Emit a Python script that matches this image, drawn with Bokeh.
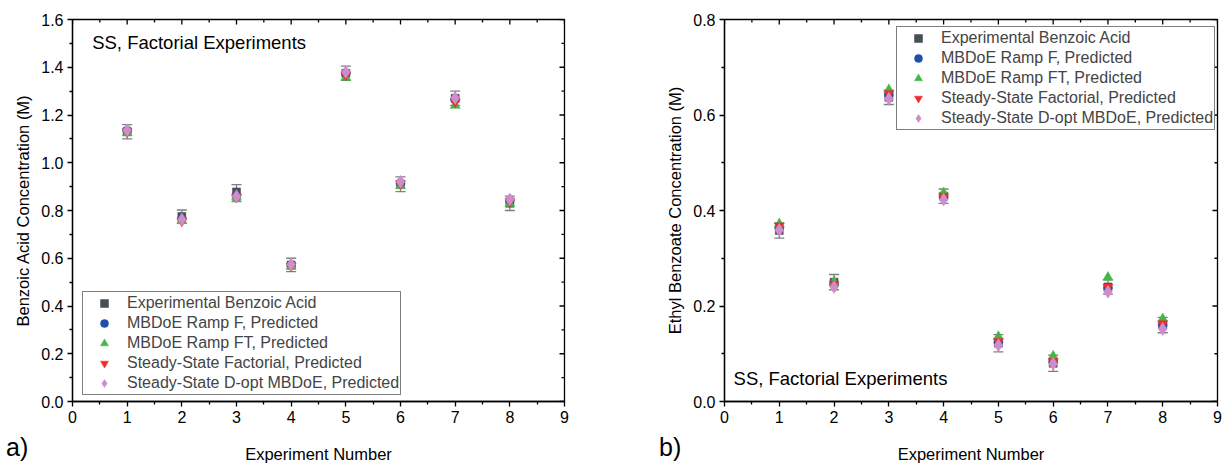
from bokeh.plotting import figure
from bokeh.layouts import row, column
from bokeh.models import (Range1d, FixedTicker, Whisker, TeeHead, Div,
                          ColumnDataSource, Legend, LegendItem, Label, PrintfTickFormatter)
from bokeh.embed import file_html
from bokeh.resources import INLINE
import math

# ---------------- data ----------------
experiments = [1, 2, 3, 4, 5, 6, 7, 8]
x_ticks = [0, 1, 2, 3, 4, 5, 6, 7, 8, 9]
x_minor = [0.5, 1.5, 2.5, 3.5, 4.5, 5.5, 6.5, 7.5, 8.5]

# (a) Benzoic acid concentration (M)
exp_ba = [1.13, 0.775, 0.878, 0.572, 1.375, 0.91, 1.27, 0.83]
err_ba = [0.03, 0.027, 0.03, 0.028, 0.03, 0.031, 0.03, 0.03]
rampF_ba = [1.135, 0.765, 0.862, 0.572, 1.375, 0.915, 1.265, 0.842]
rampFT_ba = [1.125, 0.757, 0.848, 0.565, 1.357, 0.903, 1.24, 0.828]
ssfact_ba = [1.13, 0.755, 0.855, 0.568, 1.368, 0.912, 1.255, 0.838]
ssdopt_ba = [1.136, 0.762, 0.86, 0.574, 1.38, 0.92, 1.271, 0.846]
y_ticks_ba = [0.0, 0.2, 0.4, 0.6, 0.8, 1.0, 1.2, 1.4, 1.6]
y_minor_ba = [0.1, 0.3, 0.5, 0.7, 0.9, 1.1, 1.3, 1.5]

# (b) Ethyl benzoate concentration (M)
exp_eb = [0.358, 0.25, 0.637, 0.43, 0.122, 0.08, 0.24, 0.16]
err_eb = [0.016, 0.016, 0.015, 0.015, 0.018, 0.017, 0.015, 0.016]
rampF_eb = [0.364, 0.245, 0.642, 0.428, 0.124, 0.083, 0.238, 0.16]
rampFT_eb = [0.372, 0.251, 0.653, 0.437, 0.136, 0.095, 0.26, 0.173]
ssfact_eb = [0.368, 0.246, 0.645, 0.43, 0.126, 0.084, 0.24, 0.163]
ssdopt_eb = [0.359, 0.24, 0.634, 0.423, 0.118, 0.079, 0.23, 0.152]
y_ticks_eb = [0.0, 0.2, 0.4, 0.6, 0.8]
y_minor_eb = [0.1, 0.3, 0.5, 0.7]

series_labels = ["Experimental Benzoic Acid", "MBDoE Ramp F, Predicted",
                 "MBDoE Ramp FT, Predicted", "Steady-State Factorial, Predicted",
                 "Steady-State D-opt MBDoE, Predicted"]
panel_tags = ["a)", "b)"]

# ---------------- style ----------------
FONT = "Liberation Sans"
C_EXP = "#454f55"
C_BLUE = "#1f4fa6"
C_GREEN = "#43b649"
C_RED = "#f22a2a"
C_PINK = "#cf8dcb"
C_ERR = "#7f7f7f"
MARKERS = [("square", 8, C_EXP), ("circle", 9, C_BLUE), ("triangle", 10, C_GREEN),
           ("inverted_triangle", 10, C_RED), ("diamond", 13, C_PINK)]


def style_axis(ax, ticks, minor, fmt=None):
    ax.ticker = FixedTicker(ticks=ticks, minor_ticks=minor)
    ax.axis_line_color = "black"
    ax.axis_line_width = 1.3
    ax.major_tick_line_color = "black"
    ax.minor_tick_line_color = "black"
    ax.major_tick_line_width = 1.3
    ax.minor_tick_line_width = 1.3
    ax.major_tick_in, ax.major_tick_out = 0, 5
    ax.minor_tick_in, ax.minor_tick_out = 0, 3
    ax.major_label_text_font = FONT
    ax.major_label_text_font_size = "16px"
    ax.major_label_text_color = "black"
    ax.major_label_standoff = 4
    ax.axis_label_text_font = FONT
    ax.axis_label_text_font_size = "16.5px"
    ax.axis_label_text_font_style = "normal"
    ax.axis_label_text_color = "black"
    if fmt is not None:
        ax.formatter = fmt


def make_panel(width, border_left, border_right, ymax, y_ticks, y_minor, ylabel,
               exp, err, rF, rFT, sF, sD, legend_loc, note_xy):
    p = figure(width=width, height=465, x_range=Range1d(0, 9), y_range=Range1d(0, ymax),
               output_backend="svg", toolbar_location=None,
               min_border_left=border_left, min_border_right=border_right,
               min_border_top=19, min_border_bottom=63)
    p.grid.visible = False
    p.outline_line_color = "black"
    p.outline_line_width = 1.3
    style_axis(p.xaxis[0], x_ticks, x_minor)
    p.xaxis[0].axis_label = "Experiment Number"
    p.xaxis[0].axis_label_standoff = 19
    style_axis(p.yaxis[0], y_ticks, y_minor, fmt=PrintfTickFormatter(format="%.1f"))
    p.yaxis[0].axis_label = ylabel
    p.yaxis[0].axis_label_standoff = 6

    # mirrored inward ticks on the top and right frame edges (outer half is clipped)
    p.scatter(x=x_ticks, y=[ymax] * len(x_ticks), marker="dash", angle=math.pi / 2,
              size=10, line_color="black", line_width=1.3)
    p.scatter(x=x_minor, y=[ymax] * len(x_minor), marker="dash", angle=math.pi / 2,
              size=6, line_color="black", line_width=1.3)
    p.scatter(x=[9] * len(y_ticks), y=y_ticks, marker="dash", size=10,
              line_color="black", line_width=1.3)
    p.scatter(x=[9] * len(y_minor), y=y_minor, marker="dash", size=6,
              line_color="black", line_width=1.3)

    src = ColumnDataSource(dict(x=experiments, upper=[v + e for v, e in zip(exp, err)],
                                lower=[v - e for v, e in zip(exp, err)]))
    wh = Whisker(base="x", upper="upper", lower="lower", source=src,
                 line_color=C_ERR, line_width=1.3,
                 upper_head=TeeHead(size=10, line_color=C_ERR, line_width=1.3),
                 lower_head=TeeHead(size=10, line_color=C_ERR, line_width=1.3))
    p.add_layout(wh)

    items = []
    for (mk, sz, col), vals, lab in zip(MARKERS, [exp, rF, rFT, sF, sD], series_labels):
        r = p.scatter(x=experiments, y=vals, marker=mk, size=sz,
                      fill_color=col, line_color=col, line_width=0.5)
        items.append(LegendItem(label=lab, renderers=[r]))
    leg = Legend(items=items, location=legend_loc, padding=1, spacing=0, margin=0,
                 glyph_width=40, glyph_height=20, label_height=20, label_standoff=3,
                 label_text_font=FONT, label_text_font_size="16px",
                 border_line_color="black", border_line_width=1.3,
                 background_fill_color="white", background_fill_alpha=1.0)
    p.add_layout(leg)

    p.add_layout(Label(x=note_xy[0], y=note_xy[1], text="SS, Factorial Experiments",
                       text_font=FONT, text_font_size="18.5px", text_baseline="middle",
                       text_color="black"))
    return p


def tag_div(text, left, top):
    return Div(text=f'<span style="font-family:\'Liberation Sans\',Arial,sans-serif;'
                    f'font-size:25px;line-height:25px;color:black">{text}</span>',
               width=30, height=26,
               styles={"position": "absolute", "left": f"{left}px", "top": f"{top}px",
                       "z-index": "10"})


p1 = make_panel(612, 72, 48, 1.6, y_ticks_ba, y_minor_ba,
                "Benzoic Acid Concentration (M)",
                exp_ba, err_ba, rampF_ba, rampFT_ba, ssfact_ba, ssdopt_ba,
                (10, 6), (0.36, 1.505))
p2 = make_panel(611, 112, 6, 0.8, y_ticks_eb, y_minor_eb,
                "Ethyl Benzoate Concentration (M)",
                exp_eb, err_eb, rampF_eb, rampFT_eb, ssfact_eb, ssdopt_eb,
                (172, 271), (0.165, 0.048))

layout = column(row(p1, p2), tag_div(panel_tags[0], 1, 430), tag_div(panel_tags[1], 654, 430))
open("out.html", "w").write(file_html(layout, INLINE))
